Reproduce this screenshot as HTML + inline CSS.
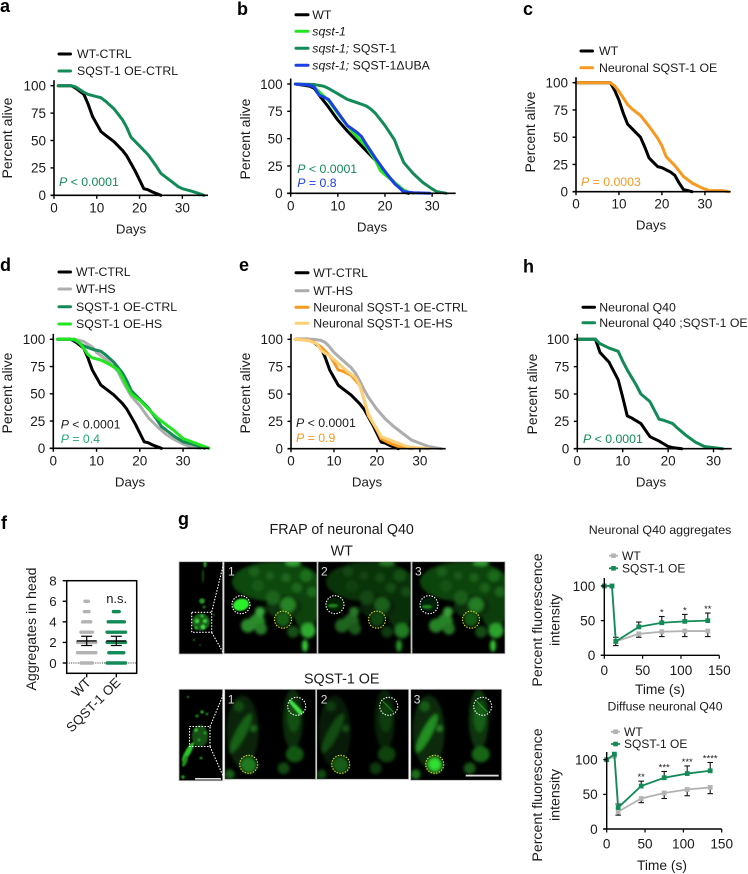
<!DOCTYPE html>
<html lang="en">
<head>
<meta charset="utf-8">
<title>SQST-1 survival and FRAP figure</title>
<style>
html,body{margin:0;padding:0;background:#fff;}
svg{display:block;font-family:"Liberation Sans",sans-serif;}
</style>
</head>
<body>
<svg id="figure" xmlns="http://www.w3.org/2000/svg" width="748" height="874" viewBox="0 0 748 874">
<defs>
<filter id="soft" x="-30%" y="-30%" width="160%" height="160%"><feGaussianBlur stdDeviation="1.6"/></filter>
<filter id="soft2" x="-30%" y="-30%" width="160%" height="160%"><feGaussianBlur stdDeviation="0.7"/></filter>
<clipPath id="clip-wt"><rect width="93" height="92"/></clipPath>
<clipPath id="clip-oe"><rect width="92" height="91"/></clipPath>
<clipPath id="clip-thumb-wt"><rect x="179" y="561.7" width="43.7" height="92.3"/></clipPath>
<clipPath id="clip-thumb-oe"><rect x="179" y="689.3" width="43.7" height="91.4"/></clipPath>
<g id="wt-cells" filter="url(#soft)">
<ellipse cx="52" cy="20" rx="44" ry="20" fill="#0f4a0f"/>
<ellipse cx="82" cy="42" rx="14" ry="26" fill="#0e420e"/>
<ellipse cx="60" cy="45" rx="18" ry="12" fill="#0a320a"/>
<circle cx="33" cy="60" r="8" fill="#2a8c2a"/>
<circle cx="24" cy="64" r="7" fill="#2a8a2a"/>
<circle cx="37" cy="67" r="6" fill="#257c25"/>
<circle cx="36" cy="50" r="5" fill="#3aa43a"/>
<circle cx="64" cy="43" r="7.5" fill="#278427"/>
<circle cx="49" cy="36" r="7" fill="#1c631c"/>
<circle cx="59" cy="58" r="7" fill="#176017"/>
<circle cx="84" cy="69" r="7.5" fill="#2fab2f"/>
<ellipse cx="81" cy="84" rx="3" ry="6" fill="#38d038"/>
<circle cx="69" cy="70" r="6" fill="#134f13"/>
<circle cx="30" cy="10" r="5" fill="#1c621c"/>
<ellipse cx="69" cy="1" rx="8" ry="3" fill="#34a634"/>
<circle cx="46" cy="14" r="4" fill="#1a5e1a"/>
<circle cx="62" cy="16" r="4.5" fill="#1c661c"/>
<circle cx="82" cy="14" r="6" fill="#1c6f1c"/>
<circle cx="73" cy="26" r="5" fill="#1b681b"/>
<circle cx="88" cy="30" r="5" fill="#1c6a1c"/>
<circle cx="34" cy="24" r="6" fill="#185818"/>
</g>
<g id="oe-cells" filter="url(#soft)">
<ellipse cx="18" cy="42" rx="16" ry="36" fill="#072c07"/>
<ellipse cx="68" cy="30" rx="10" ry="30" fill="#0a360a"/>
<ellipse cx="16" cy="44" rx="5" ry="22" transform="rotate(28 16 44)" fill="#1c741c"/>
<circle cx="14" cy="17" r="5" fill="#175c17"/>
<circle cx="29" cy="39" r="3.2" fill="#257c25"/>
<ellipse cx="69" cy="28" rx="6" ry="15" fill="#185f18"/>
<circle cx="24" cy="76" r="8" fill="#279027"/>
<ellipse cx="70" cy="65" rx="9" ry="8" fill="#196619"/>
<circle cx="59" cy="79" r="6" fill="#155715"/>
<circle cx="5" cy="85" r="5" fill="#1a701a"/>
</g>
</defs>
<rect width="748" height="874" fill="#fff"/>

<g font-weight="bold" font-size="18" fill="#000">
<text x="0" y="12">a</text>
<text x="237" y="15">b</text>
<text x="523" y="15">c</text>
<text x="0" y="271">d</text>
<text x="239" y="271">e</text>
<text x="523" y="272.5">h</text>
<text x="1" y="529">f</text>
<text x="178" y="525">g</text>
</g>

<g font-size="14.3" text-anchor="middle" fill="#1a1a1a">
<text x="341.7" y="534">FRAP of neuronal Q40</text>
<text x="341.7" y="555.7">WT</text>
<text x="341.7" y="683.3">SQST-1 OE</text>
</g>

<!-- Row 1 thumbnail -->
<g>
<rect x="179" y="561.7" width="43.7" height="92.3" fill="#000" stroke="#bbb" stroke-width=".8"/>
<g clip-path="url(#clip-thumb-wt)" filter="url(#soft2)">
<ellipse cx="201" cy="622" rx="9" ry="8.5" fill="#145f14"/>
<circle cx="197" cy="621" r="2.2" fill="#41cc41"/>
<circle cx="202" cy="616" r="1.6" fill="#35b035"/>
<circle cx="205" cy="621" r="2" fill="#3fc63f"/>
<circle cx="203" cy="627" r="2.2" fill="#45d645"/>
<circle cx="196" cy="628" r="1.5" fill="#35b035"/>
<circle cx="202" cy="601" r="2.8" fill="#259525"/>
<circle cx="204" cy="607" r="1.5" fill="#1c7a1c"/>
<ellipse cx="205" cy="564" rx="1.6" ry="3.5" fill="#259525"/>
<ellipse cx="203" cy="576" rx=".8" ry="7" fill="#176017"/>
<circle cx="194" cy="640" r="1" fill="#259525"/>
<circle cx="200" cy="645" r=".9" fill="#1c7a1c"/>
<circle cx="214" cy="615" r=".9" fill="#259525"/>
</g>
<rect x="191.7" y="612.3" width="20" height="20" fill="none" stroke="#fff" stroke-width="1.1" stroke-dasharray="1.5 1.5"/>
</g>
<line x1="211.7" y1="612" x2="224" y2="562" stroke="#fff" stroke-width="1.1" stroke-dasharray="1.5 1.5"/>
<line x1="211.7" y1="632.5" x2="224" y2="654" stroke="#fff" stroke-width="1.1" stroke-dasharray="1.5 1.5"/>

<!-- Row 1 panels -->
<g transform="translate(224 561.7)">
<rect width="93" height="92" fill="#000"/>
<g clip-path="url(#clip-wt)"><use href="#wt-cells"/><ellipse cx="17" cy="43" rx="8" ry="6" transform="rotate(-15 17 43)" fill="#2cf02c" filter="url(#soft2)"/></g>
<rect width="93" height="92" fill="none" stroke="#bbb" stroke-width=".8"/>
<circle cx="17" cy="43" r="9" fill="none" stroke="#fff" stroke-width="1.1" stroke-dasharray="1.4 1.4"/>
<circle cx="59" cy="58" r="8.5" fill="none" stroke="#e8e020" stroke-width="1.1" stroke-dasharray="1.4 1.4"/>
<text x="4" y="14" font-size="12" fill="#ddd">1</text>
</g>
<g transform="translate(318 561.7)">
<rect width="93" height="92" fill="#000"/>
<g clip-path="url(#clip-wt)" opacity=".72"><use href="#wt-cells"/></g>
<g clip-path="url(#clip-wt)"><ellipse cx="17" cy="43" rx="9" ry="7" fill="#020" filter="url(#soft2)"/><ellipse cx="15" cy="44" rx="5" ry="2" fill="#1f7f1f" filter="url(#soft2)"/></g>
<rect width="93" height="92" fill="none" stroke="#bbb" stroke-width=".8"/>
<circle cx="17" cy="43" r="9" fill="none" stroke="#fff" stroke-width="1.1" stroke-dasharray="1.4 1.4"/>
<circle cx="59" cy="58" r="8.5" fill="none" stroke="#e8e020" stroke-width="1.1" stroke-dasharray="1.4 1.4"/>
<text x="3" y="14" font-size="12" fill="#ddd">2</text>
</g>
<g transform="translate(412 561.7)">
<rect width="93" height="92" fill="#000"/>
<g clip-path="url(#clip-wt)" opacity=".95"><use href="#wt-cells"/></g>
<g clip-path="url(#clip-wt)"><ellipse cx="17" cy="43" rx="9" ry="7" fill="#021" filter="url(#soft2)"/><ellipse cx="15" cy="45" rx="5" ry="2" fill="#1f7f1f" filter="url(#soft2)"/></g>
<rect width="93" height="92" fill="none" stroke="#bbb" stroke-width=".8"/>
<circle cx="17" cy="43" r="9" fill="none" stroke="#fff" stroke-width="1.1" stroke-dasharray="1.4 1.4"/>
<circle cx="59" cy="58" r="8.5" fill="none" stroke="#e8e020" stroke-width="1.1" stroke-dasharray="1.4 1.4"/>
<text x="3" y="14" font-size="12" fill="#ddd">3</text>
</g>

<!-- Row 2 thumbnail -->
<g>
<rect x="179" y="689.3" width="43.7" height="91.4" fill="#000" stroke="#bbb" stroke-width=".8"/>
<g clip-path="url(#clip-thumb-oe)" filter="url(#soft2)">
<ellipse cx="200" cy="736" rx="8" ry="11" fill="#124f12"/>
<circle cx="196" cy="730" r="1.8" fill="#35b035"/>
<circle cx="205" cy="733" r="1.5" fill="#259525"/>
<circle cx="199" cy="740" r="1.5" fill="#259525"/>
<ellipse cx="188" cy="752" rx="2.8" ry="11" transform="rotate(30 188 752)" fill="#2bc22b"/>
<ellipse cx="185" cy="761" rx="2.2" ry="6" transform="rotate(20 185 761)" fill="#1f8f1f"/>
<circle cx="202" cy="712" r="1.8" fill="#259525"/>
<circle cx="197" cy="716" r="1.6" fill="#1c7a1c"/>
<circle cx="207" cy="714" r="1.3" fill="#259525"/>
<circle cx="188" cy="697" r="1.1" fill="#259525"/>
<circle cx="201" cy="758" r="1.4" fill="#259525"/>
<circle cx="183" cy="777" r="1.8" fill="#259525"/>
</g>
<rect x="189.5" y="726.5" width="20.5" height="20" fill="none" stroke="#fff" stroke-width="1.1" stroke-dasharray="1.5 1.5"/>
<rect x="195" y="778" width="26" height="1.6" fill="#ddd"/>
</g>
<line x1="210" y1="726.5" x2="224" y2="693" stroke="#fff" stroke-width="1.1" stroke-dasharray="1.5 1.5"/>
<line x1="210" y1="746.5" x2="224" y2="778" stroke="#fff" stroke-width="1.1" stroke-dasharray="1.5 1.5"/>

<!-- Row 2 panels -->
<g transform="translate(224.7 689.3)">
<rect width="91" height="90" fill="#000"/>
<g clip-path="url(#clip-oe)" opacity=".85"><use href="#oe-cells"/></g>
<path d="M66 10 L79 23 L75 26 L64 13Z" fill="#3fe03f" filter="url(#soft2)"/>
<rect width="91" height="90" fill="none" stroke="#bbb" stroke-width=".8"/>
<circle cx="72" cy="17" r="9" fill="none" stroke="#fff" stroke-width="1.1" stroke-dasharray="1.4 1.4"/>
<circle cx="24" cy="75" r="9" fill="none" stroke="#e8e020" stroke-width="1.1" stroke-dasharray="1.4 1.4"/>
<text x="3" y="14" font-size="12" fill="#ddd">1</text>
</g>
<g transform="translate(316.7 689.3)">
<rect width="92" height="90" fill="#000"/>
<g clip-path="url(#clip-oe)" opacity=".65"><use href="#oe-cells"/></g>
<line x1="66" y1="12" x2="77" y2="23" stroke="#1f8f1f" stroke-width="1"/>
<rect width="92" height="90" fill="none" stroke="#bbb" stroke-width=".8"/>
<circle cx="72" cy="17" r="9" fill="none" stroke="#fff" stroke-width="1.1" stroke-dasharray="1.4 1.4"/>
<circle cx="24" cy="75" r="9" fill="none" stroke="#e8e020" stroke-width="1.1" stroke-dasharray="1.4 1.4"/>
<text x="4" y="14" font-size="12" fill="#ddd">2</text>
</g>
<g transform="translate(410.7 689.3)">
<rect width="91" height="91" fill="#000"/>
<g clip-path="url(#clip-oe)" opacity="1"><use href="#oe-cells"/></g>
<circle cx="24" cy="75" r="6" fill="#33e033" filter="url(#soft)"/>
<ellipse cx="16" cy="44" rx="4" ry="20" transform="rotate(28 16 44)" fill="#229022" filter="url(#soft)"/>
<line x1="66" y1="12" x2="77" y2="23" stroke="#2aa52a" stroke-width="1"/>
<rect width="91" height="91" fill="none" stroke="#bbb" stroke-width=".8"/>
<circle cx="72" cy="17" r="9" fill="none" stroke="#fff" stroke-width="1.1" stroke-dasharray="1.4 1.4"/>
<circle cx="24" cy="75" r="9" fill="none" stroke="#e8e020" stroke-width="1.1" stroke-dasharray="1.4 1.4"/>
<text x="3" y="14" font-size="12" fill="#ddd">3</text>
<rect x="55" y="85.4" width="33" height="1.8" fill="#ddd"/>
</g>
</svg>

<script>
// ---------- Survival data (days, percent alive) ----------
const xTickValues = [0, 10, 20, 30];
const yTickValues = [0, 25, 50, 75, 100];

const aWtDays = [1,4,5,7,8,9,10,11,12,14,15,16,17,18,19,20,21,22,23,24,25];
const aWtAlive = [100,100,98,92,83,72,65,58,55,49,45,41,36,29,22,14,6,5,3,1.5,0];
const aOeDays = [1,4,5,7,8,9,10,11,12,14,16,17,18,19,20,22,24,25,26,28,29,30,32,34,35];
const aOeAlive = [100,100,99,94,92,91,90,89,86,79,69,62,53,49,45,37,26,20,17,11,8,6,4,1.5,0];

const bWtDays = [1,4,5,6,8,10,12,14,16,18,19,20,22,24,25];
const bWtAlive = [100,98,96,90,79,67,57,48,39,30,23,18,10,1,0];
const bSqstDays = [1,4,5,6,8,10,12,14,16,18,19,20,22,24,25,26];
const bSqstAlive = [100,99,97,93,85,73,62,52,43,30,21,17,10,3,1,0];
const bRescueDays = [1,5,7,8,10,12,14,16,17,18,20,22,23,24,26,28,30,31,33];
const bRescueAlive = [100,99.5,98,96,91,86,83,80,77,73,62,49,38,28,18,10,4,1.5,0];
const bUbaDays = [1,4,5,6,8,10,12,14,15,16,18,20,22,24,26,29.5];
const bUbaAlive = [100,99,97,90,86,74,62,56,52,45,32,20,9,1.5,0.5,0];

const cWtDays = [0,8,9,10,11,12,13,14,15,16,17,18,19,20,21,22,23,24,25,26,27];
const cWtAlive = [100,100,93,84,72,62,58,54,50,41,31,27,23,22,20,18,15,8,2,1,0];
const cOeDays = [0,8,9,10,11,12,13,15,17,19,20,21,23,25,27,29,31,34,35.5];
const cOeAlive = [100,100,97,92,86,80,76,70,60,49,42,32,24,14,8,4,1,1,0];

const dWtDays = [1,4,5,7,8,9,10,11,12,14,15,16,17,18,19,20,21,22,23,24,25];
const dWtAlive = [100,100,98,92,83,72,65,58,55,49,45,41,36,29,22,14,6,5,3,1.5,0];
const dHsDays = [1,5,7,9,10,12,14,15,16,17,18,20,22,24,26,28,30,32,34];
const dHsAlive = [100,100,98,93,88,82,75,70,62,55,48,39,28,20,13,8,4,1,0];
const dOeDays = [1,4,5,7,9,11,12,14,16,17,18,19,20,22,24,25,26,28,30,32,34,35];
const dOeAlive = [100,100,99,94,91,89,86,79,69,62,53,49,45,37,26,20,17,11,6,4,1.5,0];
const dOeHsDays = [1,5,6,7,8,9,11,13,15,16,17,18,20,22,24,26,28,30,32,34,36];
const dOeHsAlive = [100,100,97,92,86,83,81,77,72,65,57,50,44,36,28,22,16,9,6,3,0];

const eWtDays = [1,4,5,7,8,9,10,11,12,14,15,16,17,18,19,20,21,22,23,24,25];
const eWtAlive = [100,100,98,92,83,72,65,58,55,49,45,41,36,29,22,14,6,5,3,1.5,0];
const eHsDays = [1,5,7,8,9,10,12,14,15,16,17,18,20,22,24,26,28,30,32,35];
const eHsAlive = [100,100,99,97,93,88,81,74,69,62,54,47,36,27,20,14,8,5,2,0];
const eNeuCtrlDays = [1,4,5,7,9,10,11,12,14,16,17,18,19,20,21,23,25,28];
const eNeuCtrlAlive = [100,99,98,93,85,79,72,71,67,58,45,30,24,17,9,5,2,0];
const eNeuHsDays = [1,4,6,7,8,9,11,13,15,16,17,18,19,20,21,23,25,27,29,32];
const eNeuHsAlive = [100,99,96,90,87,85,78,71,65,58,45,32,24,18,11,8,5,2,1,0];

const hQ40Days = [0,4,5,7,8,9,10,11,12,14,15,16,18,20,21,23];
const hQ40Alive = [100,100,88,79,71,63,47,30,28,23,17,11,7,2,1,0];
const hOeDays = [0,4,5,7,9,10,11,13,14,16,17,18,19,21,22,24,26,28,30,32];
const hOeAlive = [100,100,96,92,89,80,72,58,50,43,35,27,26,23,19,12,6,2,1,0];

// ---------- Aggregate counts (panel f) ----------
const fCategories = ['WT', 'SQST-1 OE'];
const fTicks = [0, 2, 4, 6, 8];
const fWtLevels = [0,1,2,3,4,5,6];
const fWtCounts = [11,17,17,11,8,5,4];
const fOeLevels = [0,1,2,3,4,5];
const fOeCounts = [17,14,17,17,15,6];
const fMeans = [2.15, 2.15];
const fErrors = [0.45, 0.45];

// ---------- FRAP recovery ----------
const frapTimes = [0,10,15,45,75,105,135];
const frapXTicks = [0,50,100,150];
const frapYTicks = [0,50,100];
const g1WtValues = [100,100,20,31,34,35,35];
const g1WtErrors = [0,0,6,5,7,8,8];
const g1OeValues = [100,100,20,41,47,49,50];
const g1OeErrors = [0,0,6,7,9,10,11];
const g1Stars = ['','','','','*','*','**'];
const g2WtValues = [100,105,25,44,52,57,60];
const g2WtErrors = [0,0,5,6,8,9,9];
const g2OeValues = [100,108,31,62,74,80,84];
const g2OeErrors = [0,0,5,7,9,11,12];
const g2Stars = ['','','','**','***','***','****'];

const COLORS = {black:'#000', gray:'#b3b3b3', green:'#138b57', lime:'#22e622', blue:'#1b3fe4', orange:'#f7981f', pale:'#fdcf76', lgray:'#adadad'};
const NS = 'http://www.w3.org/2000/svg';
const root = document.getElementById('figure');

function shape(parent, tag, attrs, name) {
  const el = document.createElementNS(NS, tag);
  for (const k in attrs) el.setAttribute(k, attrs[k]);
  
  
  parent.appendChild(el);
  return el;
}
function label(parent, x, y, markup, size, opts, name) {
  const o = opts || {};
  const el = document.createElementNS(NS, 'text');
  el.setAttribute('x', x);
  el.setAttribute('y', y);
  el.setAttribute('font-size', size);
  el.setAttribute('fill', o.fill || '#1a1a1a');
  el.setAttribute('text-anchor', o.anchor || 'start');
  if (o.rotate !== undefined) el.setAttribute('transform', 'rotate(' + o.rotate + ' ' + x + ' ' + y + ')');
  el.innerHTML = markup;
  
  
  parent.appendChild(el);
  return el;
}
function scale(d0, d1, r0, r1) { return v => r0 + (v - d0) * (r1 - r0) / (d1 - d0); }

function survivalPanel(cfg) {
  const g = shape(root, 'g', {}, 'survival-panel-' + cfg.id);
  const xs = scale(0, cfg.xMax, cfg.left, cfg.right);
  const ys = scale(0, 100, cfg.bottom, cfg.top);
  cfg.series.forEach(s => {
    const d = s.days.map((v, i) => (i ? 'L' : 'M') + xs(v).toFixed(2) + ' ' + ys(s.alive[i]).toFixed(2)).join(' ');
    shape(g, 'path', {d: d, fill: 'none', stroke: s.color, 'stroke-width': 3, 'stroke-linejoin': 'round', 'stroke-linecap': 'round'}, 'survival-curve-' + s.key);
  });
  shape(g, 'line', {x1: cfg.left, y1: cfg.bottom, x2: cfg.left, y2: ys(105), stroke: '#000', 'stroke-width': 1.6}, 'y-axis');
  shape(g, 'line', {x1: cfg.left - 3.5, y1: cfg.bottom, x2: cfg.right, y2: cfg.bottom, stroke: '#000', 'stroke-width': 1.6}, 'x-axis');
  yTickValues.forEach(v => {
    shape(g, 'line', {x1: cfg.left - 3.5, y1: ys(v), x2: cfg.left, y2: ys(v), stroke: '#000', 'stroke-width': 1.4}, 'y-tick');
    label(g, cfg.left - 8, ys(v) + 4.8, v, 13.5, {anchor: 'end'}, 'y-tick-label');
  });
  xTickValues.forEach(v => {
    shape(g, 'line', {x1: xs(v), y1: cfg.bottom, x2: xs(v), y2: cfg.bottom + 3.5, stroke: '#000', 'stroke-width': 1.4}, 'x-tick');
    label(g, xs(v), cfg.bottom + 17, v, 13.5, {anchor: 'middle'}, 'x-tick-label');
  });
  label(g, cfg.daysX, cfg.bottom + 38, 'Days', 13.3, {anchor: 'middle'}, 'x-axis-title');
  label(g, cfg.titleX + 9, cfg.titleY, 'Percent alive', 14, {anchor: 'middle', rotate: -90}, 'y-axis-title');
  cfg.series.forEach((s, i) => {
    const ly = cfg.legend.ys[i];
    shape(g, 'line', {x1: cfg.legend.x1, y1: ly, x2: cfg.legend.x2, y2: ly, stroke: s.color, 'stroke-width': 3, 'stroke-linecap': 'round'}, 'legend-swatch-' + s.key);
    label(g, cfg.legend.tx, ly + 4.2, s.label, 12.3, {}, 'legend-label-' + s.key);
  });
  cfg.pvalues.forEach(p => {
    label(g, p.x, p.y, '<tspan font-style="italic">P</tspan> ' + p.text, 12.3, {fill: p.color}, 'p-value');
  });
}

survivalPanel({id:'a', xMax:36, left:54, right:208, top:85.7, bottom:195.3, daysX:131, titleX:3, titleY:138,
  legend:{x1:59, x2:70.5, tx:77, ys:[54, 71]},
  series:[
    {key:'wt-ctrl', color:COLORS.black, days:aWtDays, alive:aWtAlive, label:'WT-CTRL'},
    {key:'sqst1-oe-ctrl', color:COLORS.green, days:aOeDays, alive:aOeAlive, label:'SQST-1 OE-CTRL'}],
  pvalues:[{x:59, y:186, text:'&lt; 0.0001', color:COLORS.green}]});

survivalPanel({id:'b', xMax:35, left:290.7, right:455.7, top:84, bottom:193.3, daysX:372, titleX:241, titleY:139,
  legend:{x1:296, x2:308, tx:312.3, ys:[14.7, 31.3, 48.3, 65.3]},
  series:[
    {key:'wt', color:COLORS.black, days:bWtDays, alive:bWtAlive, label:'WT'},
    {key:'sqst1', color:COLORS.lime, days:bSqstDays, alive:bSqstAlive, label:'<tspan font-style="italic">sqst-1</tspan>'},
    {key:'sqst1-rescue', color:COLORS.green, days:bRescueDays, alive:bRescueAlive, label:'<tspan font-style="italic">sqst-1;</tspan> SQST-1'},
    {key:'sqst1-uba', color:COLORS.blue, days:bUbaDays, alive:bUbaAlive, label:'<tspan font-style="italic">sqst-1;</tspan> SQST-1ΔUBA'}],
  pvalues:[{x:297.3, y:173, text:'&lt; 0.0001', color:COLORS.green},{x:297.3, y:187, text:'= 0.8', color:COLORS.blue}]});

survivalPanel({id:'c', xMax:36, left:576, right:730.7, top:82.7, bottom:191.7, daysX:651, titleX:526, titleY:132,
  legend:{x1:581, x2:592.5, tx:599, ys:[51, 67.7]},
  series:[
    {key:'wt', color:COLORS.black, days:cWtDays, alive:cWtAlive, label:'WT'},
    {key:'neuronal-oe', color:COLORS.orange, days:cOeDays, alive:cOeAlive, label:'Neuronal SQST-1 OE'}],
  pvalues:[{x:581, y:186, text:'= 0.0003', color:COLORS.orange}]});

survivalPanel({id:'d', xMax:36, left:53.3, right:209, top:339.3, bottom:448.3, daysX:130, titleX:3, titleY:393,
  legend:{x1:59, x2:70.5, tx:76, ys:[272, 289, 306.7, 324]},
  series:[
    {key:'wt-ctrl', color:COLORS.black, days:dWtDays, alive:dWtAlive, label:'WT-CTRL'},
    {key:'wt-hs', color:COLORS.lgray, days:dHsDays, alive:dHsAlive, label:'WT-HS'},
    {key:'oe-ctrl', color:COLORS.green, days:dOeDays, alive:dOeAlive, label:'SQST-1 OE-CTRL'},
    {key:'oe-hs', color:COLORS.lime, days:dOeHsDays, alive:dOeHsAlive, label:'SQST-1 OE-HS'}],
  pvalues:[{x:60.7, y:428.7, text:'&lt; 0.0001', color:'#1a1a1a'},{x:60.7, y:443, text:'= 0.4', color:'#22a878'}]});

survivalPanel({id:'e', xMax:36, left:291, right:445.7, top:339.3, bottom:448.7, daysX:367, titleX:241, titleY:393,
  legend:{x1:296, x2:308, tx:313.3, ys:[272.7, 290.7, 307.3, 323.3]},
  series:[
    {key:'wt-ctrl', color:COLORS.black, days:eWtDays, alive:eWtAlive, label:'WT-CTRL'},
    {key:'wt-hs', color:COLORS.lgray, days:eHsDays, alive:eHsAlive, label:'WT-HS'},
    {key:'neuronal-ctrl', color:COLORS.orange, days:eNeuCtrlDays, alive:eNeuCtrlAlive, label:'Neuronal SQST-1 OE-CTRL'},
    {key:'neuronal-hs', color:COLORS.pale, days:eNeuHsDays, alive:eNeuHsAlive, label:'Neuronal SQST-1 OE-HS'}],
  pvalues:[{x:296, y:427, text:'&lt; 0.0001', color:'#1a1a1a'},{x:296, y:442, text:'= 0.9', color:COLORS.orange}]});

survivalPanel({id:'h', xMax:34, left:577.3, right:731.7, top:339.3, bottom:448.7, daysX:651, titleX:528, titleY:394,
  legend:{x1:583, x2:594.5, tx:599.3, ys:[307.3, 322.7]},
  series:[
    {key:'neuronal-q40', color:COLORS.black, days:hQ40Days, alive:hQ40Alive, label:'Neuronal Q40'},
    {key:'neuronal-q40-oe', color:COLORS.green, days:hOeDays, alive:hOeAlive, label:'Neuronal Q40 ;SQST-1 OE'}],
  pvalues:[{x:583, y:443, text:'&lt; 0.0001', color:COLORS.green}]});

// ---------- Panel f ----------
(function () {
  const g = shape(root, 'g', {}, 'aggregates-panel');
  const left = 66.7, right = 136.7, top = 580.7, bottom = 673.3;
  const ys = scale(-1, 8, bottom, top);
  const xc = scale(0, 1, 86.7, 116.3);
  const dotSets = [
    {levels: fWtLevels, counts: fWtCounts, color: COLORS.gray},
    {levels: fOeLevels, counts: fOeCounts, color: COLORS.green}];
  shape(g, 'line', {x1: left, y1: ys(0), x2: right, y2: ys(0), stroke: '#333', 'stroke-width': 0.9, 'stroke-dasharray': '1 1.2'}, 'zero-reference-line');
  dotSets.forEach((set, c) => {
    set.levels.forEach((lv, i) => {
      for (let k = 0; k < set.counts[i]; k++) {
        const dx = (k - (set.counts[i] - 1) / 2) * 1.15;
        shape(g, 'circle', {cx: xc(c) + dx, cy: ys(lv), r: 1.7, fill: set.color}, 'aggregate-dot');
      }
    });
  });
  fCategories.forEach((cat, c) => {
    const cx = xc(c);
    shape(g, 'line', {x1: cx - 10, y1: ys(fMeans[c]), x2: cx + 10, y2: ys(fMeans[c]), stroke: '#000', 'stroke-width': 1.4}, 'mean-line');
    shape(g, 'line', {x1: cx, y1: ys(fMeans[c] - fErrors[c]), x2: cx, y2: ys(fMeans[c] + fErrors[c]), stroke: '#000', 'stroke-width': 1.2}, 'error-bar');
    shape(g, 'line', {x1: cx - 5.5, y1: ys(fMeans[c] - fErrors[c]), x2: cx + 5.5, y2: ys(fMeans[c] - fErrors[c]), stroke: '#000', 'stroke-width': 1.2}, 'error-cap-low');
    shape(g, 'line', {x1: cx - 5.5, y1: ys(fMeans[c] + fErrors[c]), x2: cx + 5.5, y2: ys(fMeans[c] + fErrors[c]), stroke: '#000', 'stroke-width': 1.2}, 'error-cap-high');
    shape(g, 'line', {x1: cx, y1: bottom, x2: cx, y2: bottom + 4, stroke: '#000', 'stroke-width': 1.4}, 'x-tick');
    label(g, cx + 5, bottom + 10, cat, 13.3, {anchor: 'end', rotate: -45}, 'x-tick-label');
  });
  shape(g, 'rect', {x: left, y: top, width: right - left, height: bottom - top, fill: 'none', stroke: '#000', 'stroke-width': 1.5}, 'plot-frame');
  fTicks.forEach(v => {
    shape(g, 'line', {x1: left - 4, y1: ys(v), x2: left, y2: ys(v), stroke: '#000', 'stroke-width': 1.4}, 'y-tick');
    label(g, left - 10, ys(v) + 4.8, v, 13.3, {anchor: 'end'}, 'y-tick-label');
  });
  label(g, 36, 629, 'Aggregates in head', 14.2, {anchor: 'middle', rotate: -90}, 'y-axis-title');
  label(g, 116.7, 603, 'n.s.', 13, {anchor: 'middle'}, 'significance-label');
})();

// ---------- FRAP charts ----------
function frapChart(cfg) {
  const g = shape(root, 'g', {}, 'frap-chart-' + cfg.id);
  const xs = scale(0, 150, cfg.left, cfg.right);
  const ys = scale(0, 100, cfg.bottom, cfg.top);
  label(g, cfg.titleCx, cfg.titleY, cfg.title, cfg.titleSize, {anchor: 'middle'}, 'chart-title');
  const drawBars = (vals, errs, up, down) => {
    frapTimes.forEach((t, i) => {
      if (!errs[i]) return;
      const hi = vals[i] + (up ? errs[i] : 0), lo = vals[i] - (down ? errs[i] : 0);
      shape(g, 'line', {x1: xs(t), y1: ys(lo), x2: xs(t), y2: ys(hi), stroke: '#111', 'stroke-width': 1.1}, 'error-bar');
      if (up) shape(g, 'line', {x1: xs(t) - 2.8, y1: ys(hi), x2: xs(t) + 2.8, y2: ys(hi), stroke: '#111', 'stroke-width': 1.1}, 'error-cap');
      if (down) shape(g, 'line', {x1: xs(t) - 2.8, y1: ys(lo), x2: xs(t) + 2.8, y2: ys(lo), stroke: '#111', 'stroke-width': 1.1}, 'error-cap');
    });
  };
  drawBars(cfg.wt, cfg.wtErr, false, true);
  drawBars(cfg.oe, cfg.oeErr, true, false);
  const series = [
    {key: 'wt', vals: cfg.wt, color: COLORS.gray},
    {key: 'sqst1-oe', vals: cfg.oe, color: COLORS.green}];
  series.forEach(s => {
    const pts = frapTimes.map((t, i) => xs(t).toFixed(2) + ',' + ys(s.vals[i]).toFixed(2)).join(' ');
    shape(g, 'polyline', {points: pts, fill: 'none', stroke: s.color, 'stroke-width': 1.8}, 'recovery-line-' + s.key);
    frapTimes.forEach((t, i) => {
      shape(g, 'rect', {x: xs(t) - 2.4, y: ys(s.vals[i]) - 2.4, width: 4.8, height: 4.8, fill: s.color}, 'recovery-point-' + s.key);
    });
  });
  shape(g, 'line', {x1: cfg.left, y1: cfg.bottom, x2: cfg.left, y2: cfg.axisTop, stroke: '#000', 'stroke-width': 1.4}, 'y-axis');
  shape(g, 'line', {x1: cfg.left - 3.5, y1: cfg.bottom, x2: cfg.right, y2: cfg.bottom, stroke: '#000', 'stroke-width': 1.4}, 'x-axis');
  frapYTicks.forEach(v => {
    shape(g, 'line', {x1: cfg.left - 3.5, y1: ys(v), x2: cfg.left, y2: ys(v), stroke: '#000', 'stroke-width': 1.2}, 'y-tick');
    label(g, cfg.left - 9, ys(v) + 4.8, v, 13.6, {anchor: 'end'}, 'y-tick-label');
  });
  frapXTicks.forEach(v => {
    shape(g, 'line', {x1: xs(v), y1: cfg.bottom, x2: xs(v), y2: cfg.bottom + 3.5, stroke: '#000', 'stroke-width': 1.2}, 'x-tick');
    label(g, xs(v), cfg.bottom + 19.5, v, 13.6, {anchor: 'middle'}, 'x-tick-label');
  });
  label(g, cfg.timeX, cfg.timeY, 'Time (s)', 13.8, {anchor: 'middle'}, 'x-axis-title');
  label(g, cfg.labelX + 10, cfg.labelCy, 'Percent fluorescence', 14.2, {anchor: 'middle', rotate: -90}, 'y-axis-title');
  label(g, cfg.labelX + 27.5, cfg.labelCy, 'intensity', 14.2, {anchor: 'middle', rotate: -90}, 'y-axis-title-line-2');
  cfg.stars.forEach((st, i) => {
    if (st) label(g, xs(frapTimes[i]), ys(cfg.oe[i] + cfg.oeErr[i]) - 1, st, 9.5, {anchor: 'middle'}, 'significance-stars');
  });
  [{text: 'WT', color: COLORS.gray, y: cfg.legendY[0], key: 'wt'}, {text: 'SQST-1 OE', color: COLORS.green, y: cfg.legendY[1], key: 'sqst1-oe'}].forEach(e => {
    shape(g, 'line', {x1: cfg.legendX, y1: e.y, x2: cfg.legendX + 9, y2: e.y, stroke: e.color, 'stroke-width': 1.8}, 'legend-swatch-' + e.key);
    shape(g, 'rect', {x: cfg.legendX + 2.2, y: e.y - 2.3, width: 4.6, height: 4.6, fill: e.color}, 'legend-marker-' + e.key);
    label(g, cfg.legendX + 13, e.y + 4.2, e.text, 12, {}, 'legend-label-' + e.key);
  });
}
frapChart({id:'aggregates', left:604.3, right:719.3, top:586, bottom:655.3, axisTop:578,
  wt:g1WtValues, wtErr:g1WtErrors, oe:g1OeValues, oeErr:g1OeErrors, stars:g1Stars,
  title:'Neuronal Q40 aggregates', titleSize:12.4, titleCx:660, titleY:534,
  timeX:660, timeY:694, labelX:532, labelCy:620, legendX:609, legendY:[555.7, 568.3]});
frapChart({id:'diffuse', left:606.7, right:721.7, top:759.7, bottom:829, axisTop:752,
  wt:g2WtValues, wtErr:g2WtErrors, oe:g2OeValues, oeErr:g2OeErrors, stars:g2Stars,
  title:'Diffuse neuronal Q40', titleSize:12.2, titleCx:665, titleY:710.7,
  timeX:662, timeY:870, labelX:532, labelCy:795, legendX:611, legendY:[731.7, 744]});
</script>
</body>
</html>
